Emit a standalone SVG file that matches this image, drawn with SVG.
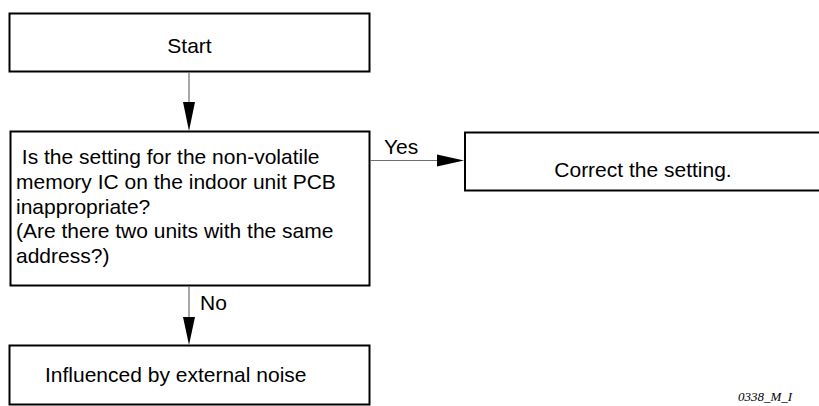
<svg xmlns="http://www.w3.org/2000/svg" width="819" height="406" viewBox="0 0 819 406">
<defs>
<style>
.box{fill:#fff;stroke:#000;stroke-width:2}
.t{font-family:"Liberation Sans",Arial,sans-serif;font-size:21px;fill:#000}
.c{stroke:#6e6e6e;stroke-width:1.2;fill:none}
.ah{fill:#000}
</style>
</defs>
<rect width="819" height="406" fill="#fff"/>
<g id="start">
<rect class="box" x="9.5" y="13.5" width="360" height="58"/>
<text class="t" x="189.5" y="53" text-anchor="middle">Start</text>
</g>
<g id="decision">
<rect class="box" x="10.5" y="131.5" width="359" height="154"/>
<text class="t" xml:space="preserve"><tspan x="16" y="164"> Is the setting for the non-volatile</tspan><tspan x="16" y="188.75">memory IC on the indoor unit PCB</tspan><tspan x="16" y="213.5">inappropriate?</tspan><tspan x="16" y="238.25">(Are there two units with the same</tspan><tspan x="16" y="263">address?)</tspan></text>
</g>
<g id="correct">
<rect class="box" x="465" y="132.5" width="360" height="58"/>
<text class="t" x="643" y="177" text-anchor="middle">Correct the setting.</text>
</g>
<g id="noise">
<rect class="box" x="9.5" y="345.5" width="360" height="59"/>
<text class="t" x="45" y="382">Influenced by external noise</text>
</g>
<g id="connectors">
<line class="c" x1="189" y1="72" x2="189" y2="104"/>
<polygon class="ah" points="183,102 195,102 189,131"/>
<line class="c" x1="370" y1="160.5" x2="440" y2="160.5"/>
<polygon class="ah" points="437,154.5 437,166.5 464,160.5"/>
<text class="t" x="384" y="154">Yes</text>
<line class="c" x1="189" y1="286" x2="189" y2="320"/>
<polygon class="ah" points="183,317 195,317 189,345"/>
<text class="t" x="200" y="310">No</text>
</g>
<text x="738" y="401" font-family="'Liberation Serif','Times New Roman',serif" font-style="italic" font-size="13" fill="#000">0338_M_I</text>
</svg>
